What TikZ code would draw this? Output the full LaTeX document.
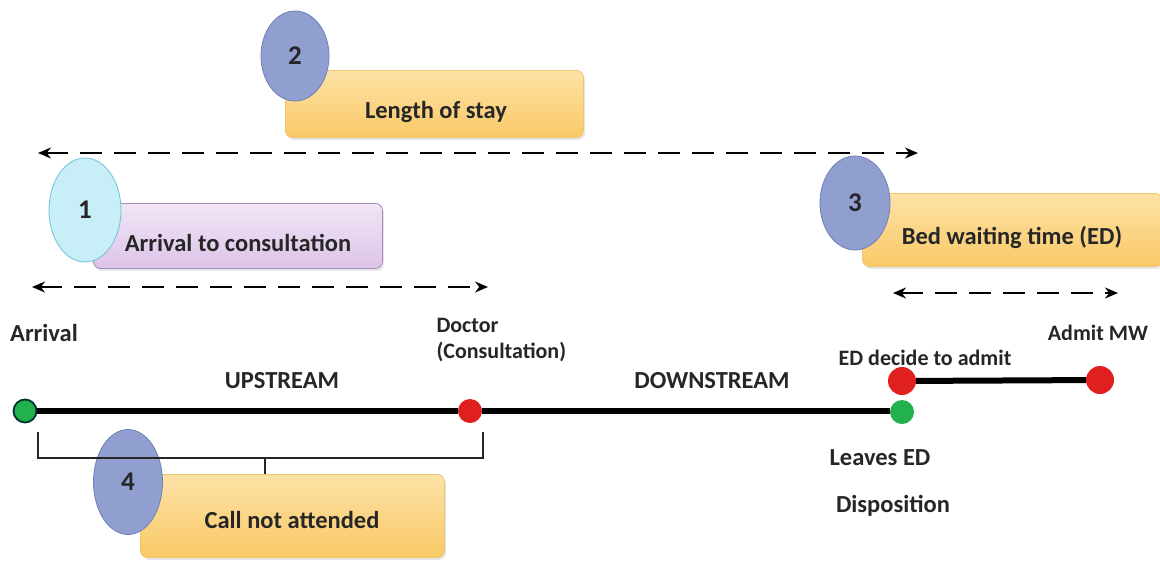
\documentclass[tikz,border=0pt]{standalone}
\usepackage{fontspec}
\setmainfont{Carlito}
\usetikzlibrary{shapes.geometric,arrows.meta,shadows}
\definecolor{boxorT}{HTML}{FDE2A6}
\definecolor{boxorB}{HTML}{F9C967}
\definecolor{boxorD}{HTML}{EFC46A}
\definecolor{lavT}{HTML}{F2E6F6}
\definecolor{lavB}{HTML}{DCC3E8}
\definecolor{lavD}{HTML}{A58BB8}
\definecolor{bubb}{HTML}{909FD0}
\definecolor{bubbD}{HTML}{7080B8}
\definecolor{cyanb}{HTML}{C8EEF7}
\definecolor{cyanD}{HTML}{6EC2DA}
\definecolor{dotred}{HTML}{E0201E}
\definecolor{dotgreen}{HTML}{22B14C}
\tikzset{
  lbox/.style={rounded corners=7pt, draw=boxorD, top color=boxorT, bottom color=boxorB, line width=0.8pt, drop shadow={opacity=0.2, shadow xshift=1.5pt, shadow yshift=-2.5pt}},
  pbox/.style={rounded corners=7pt, draw=lavD, top color=lavT, bottom color=lavB, line width=0.8pt, drop shadow={opacity=0.2, shadow xshift=1.5pt, shadow yshift=-2.5pt}},
  bub/.style={ellipse, draw=bubbD, fill=bubb, line width=0.8pt, inner sep=0pt, font=\bfseries\fontsize{27}{30}\selectfont, text=black!85},
  cbub/.style={ellipse, draw=cyanD, fill=cyanb, line width=0.8pt, inner sep=0pt, font=\bfseries\fontsize{27}{30}\selectfont, text=black!85},
  lbl/.style={font=\bfseries\fontsize{24.5}{30}\selectfont, text=black!85},
  slbl/.style={font=\bfseries\fontsize{22}{26}\selectfont, text=black!85},
  dasharrow/.style={dash pattern=on 22pt off 12pt, line width=2pt, {Stealth[length=13pt,width=11pt]}-{Stealth[length=13pt,width=11pt]}},
  tl/.style={line width=6pt, black},
  dot/.style={circle, inner sep=0pt, minimum size=#1}
}
\begin{document}
\begin{tikzpicture}[x=1pt,y=-1pt]
\useasboundingbox (0,0) rectangle (1160,563);
% boxes
\node[lbox, minimum width=298pt, minimum height=67pt, anchor=north west] (boxlos) at (285,70) {};
\node[lbl] (tlos) at (436,112) {Length of stay};
\node[pbox, minimum width=289pt, minimum height=65pt, anchor=north west] (boxatc) at (93,203) {};
\node[lbl] (tatc) at (238,243) {Arrival to consultation};
\node[lbox, minimum width=300pt, minimum height=73pt, anchor=north west] (boxbed) at (862,193) {};
\node[lbl] (tbed) at (1012,237) {Bed waiting time (ED)};
\node[lbox, minimum width=304pt, minimum height=83pt, anchor=north west] (boxcall) at (140,474) {};
\node[lbl] (tcall) at (292,520) {Call not attended};
% bubbles
\node[bub, minimum width=68pt, minimum height=90pt] (b2) at (295,56) {2};
\node[cbub, minimum width=72pt, minimum height=104pt] (b1) at (85,210) {1};
\node[bub, minimum width=70pt, minimum height=94pt] (b3) at (855,203) {3};
\node[bub, minimum width=69pt, minimum height=105pt] (b4) at (128,482) {4};
% dashed arrows
\coordinate (los1) at (38,153);
\coordinate (los2) at (918,153);
\coordinate (atc1) at (32,287);
\coordinate (atc2) at (488,287);
\coordinate (bed1) at (893,293);
\coordinate (bed2) at (1118,293);
\draw[dasharrow] (los1) -- (los2);
\draw[dasharrow] (atc1) -- (atc2);
\draw[dasharrow] (bed1) -- (bed2);
% timeline
\node[dot=23pt, fill=dotgreen, draw=black!60!teal, line width=1.8pt] (arr) at (25,411) {};
\node[dot=24pt, fill=dotred] (doc) at (470,411) {};
\node[dot=24pt, fill=dotgreen] (leave) at (902,412) {};
\draw[tl] (arr) -- (doc);
\draw[tl] (doc) -- (doc -| leave.west);
\node[dot=28pt, fill=dotred] (dec) at (902,381) {};
\node[dot=28pt, fill=dotred] (adm) at (1100,380) {};
\draw[tl] (dec) -- (adm);
% brace
\coordinate (br1) at (38,432);
\coordinate (br2) at (483,432);
\coordinate (brm) at (265,458);
\coordinate (brt) at (265,474);
\draw[line width=2.2pt, black!85] (br1) |- (brm) -- (brt);
\draw[line width=2.2pt, black!85] (br2) |- (brm);
% labels
\node[lbl] (larr) at (44,333) {Arrival};
\node[slbl, align=left, anchor=west] (ldoc) at (433,340) {Doctor\\(Consultation)};
\node[lbl] (lup) at (282,381) {UPSTREAM};
\node[lbl] (ldown) at (712,381) {DOWNSTREAM};
\node[slbl] (ldec) at (925,358) {ED decide to admit};
\node[slbl] (ladm) at (1098,333) {Admit MW};
\node[lbl] (lleave) at (880,458) {Leaves ED};
\node[lbl] (ldisp) at (893,506) {Disposition};
\end{tikzpicture}
\end{document}
